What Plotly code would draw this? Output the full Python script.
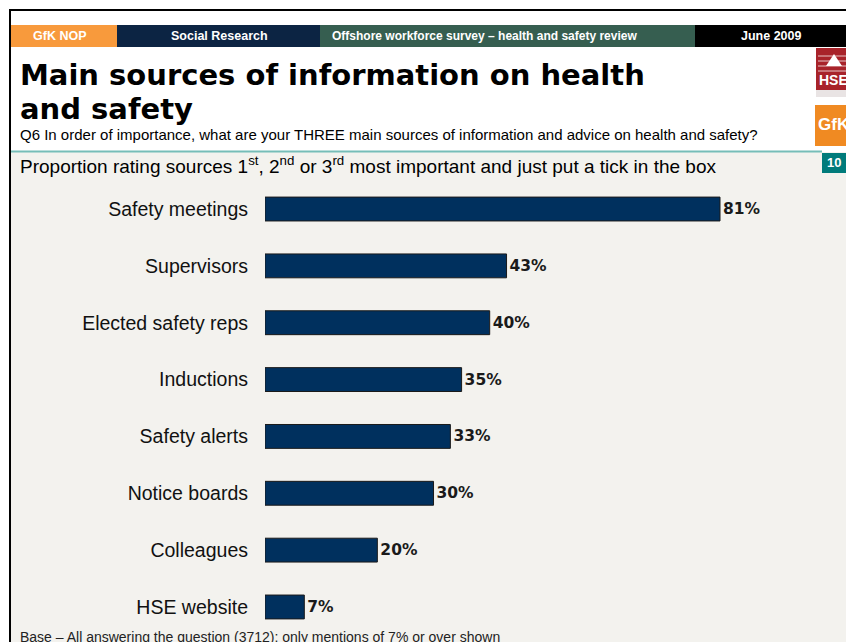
import plotly.graph_objects as go

W, H = 846, 642

# Survey results: share naming each source among their top three
sources = ["Safety meetings", "Supervisors", "Elected safety reps", "Inductions",
           "Safety alerts", "Notice boards", "Colleagues", "HSE website"]
shares = [81, 43, 40, 35, 33, 30, 20, 7]
value_labels = [f"<b>{v}%</b>" for v in shares]

header_cells = ["GfK NOP", "Social Research",
                "Offshore workforce survey \u2013 health and safety review", "June 2009"]


def px(x):
    return x / W


def py(y):
    return 1 - y / H


def rect(x0, y0, x1, y1, color, layer="below"):
    return dict(type="rect", xref="paper", yref="paper",
                x0=px(x0), x1=px(x1), y0=py(y1), y1=py(y0),
                fillcolor=color, line=dict(width=0), layer=layer)


def line(x0, y0, x1, y1, color, width):
    return dict(type="line", xref="paper", yref="paper",
                x0=px(x0), x1=px(x1), y0=py(y0), y1=py(y1),
                line=dict(color=color, width=width), layer="above")


def label(x, y, text, size, color="#000000", family="Liberation Sans",
          xanchor="left", bold=False):
    if bold:
        text = f"<b>{text}</b>"
    return dict(xref="paper", yref="paper", x=px(x), y=py(y), text=text,
                showarrow=False, xanchor=xanchor, yanchor="middle",
                font=dict(family=family, size=size, color=color))


fig = go.Figure(go.Bar(
    orientation="h",
    x=shares,
    y=sources,
    width=0.42,
    marker=dict(color="#00305E", line=dict(color="#1a1a1a", width=1)),
    text=value_labels,
    textposition="outside",
    textfont=dict(family="DejaVu Sans", size=15.5, color="#1a1a1a"),
    cliponaxis=False,
    hoverinfo="skip",
))

shapes = [
    # page panels
    rect(11, 152, 846, 642, "#F3F2EE"),
    # header strip
    rect(11, 25, 117, 47, "#F89A3C"),
    rect(117, 25, 320, 47, "#0C2443"),
    rect(320, 25, 695, 47, "#365E50"),
    rect(695, 25, 846, 47, "#000000"),
    # HSE badge
    rect(816, 48, 846, 97, "#A8232A", layer="above"),
    rect(816, 90, 846, 97, "#E9E4E4", layer="above"),
    # GfK badge
    rect(815, 105, 846, 146, "#F08A22", layer="above"),
    # page number tab
    rect(822, 153, 846, 173, "#007B7B", layer="above"),
    # divider and frame
    line(11, 151.5, 822, 151.5, "#76BDB8", 2),
    line(9, 10, 846, 10, "#000000", 2),
    line(10, 9, 10, 642, "#000000", 2),
]

# stripes and roof of the HSE badge
for yy in (56, 61, 66, 71):
    shapes.append(line(818, yy, 846, yy, "#E8C5C5", 1))
shapes.append(dict(type="path", xref="paper", yref="paper",
                   path=f"M {px(826)} {py(66)} L {px(834)} {py(54)} L {px(842)} {py(66)} Z",
                   fillcolor="#FFFFFF", line=dict(width=0), layer="above"))

annotations = [
    label(59, 36, header_cells[0], 12.5, "#FFFFFF", bold=True, xanchor="center"),
    label(219, 36, header_cells[1], 12.5, "#FFFFFF", bold=True, xanchor="center"),
    label(330, 36, header_cells[2], 12, "#FFFFFF", bold=True),
    label(771, 36, header_cells[3], 12.5, "#FFFFFF", bold=True, xanchor="center"),
    label(18, 75, "Main sources of information on health", 29, "#000000",
          family="DejaVu Sans", bold=True),
    label(18, 109, "and safety", 29, "#000000", family="DejaVu Sans", bold=True),
    label(18, 134, "Q6 In order of importance, what are your THREE main sources of "
                   "information and advice on health and safety?", 15, "#000000"),
    label(18, 165, "Proportion rating sources 1<sup>st</sup>, 2<sup>nd</sup> or "
                   "3<sup>rd</sup> most important and just put a tick in the box",
          19, "#000000"),
    label(817, 80, "HSE", 14, "#FFFFFF", bold=True),
    label(816, 125, "GfK", 17, "#FFFFFF", bold=True),
    label(825, 163, "10", 13, "#FFFFFF", bold=True),
    label(18, 637, "Base \u2013 All answering the question (3712); only mentions of "
                   "7% or over shown", 14, "#222222"),
]

zero_px, px_per_pct = 265, 455 / 81
x_max = 100
row_top, row_bottom = 180.6, 635.4

fig.update_layout(
    width=W, height=H,
    margin=dict(l=0, r=0, t=0, b=0),
    paper_bgcolor="#FFFFFF",
    plot_bgcolor="rgba(0,0,0,0)",
    showlegend=False,
    shapes=shapes,
    annotations=annotations,
    xaxis=dict(domain=[px(zero_px), px(zero_px + x_max * px_per_pct)],
               range=[0, x_max], visible=False, fixedrange=True),
    yaxis=dict(domain=[py(row_bottom), py(row_top)],
               range=[7.5, -0.5], showgrid=False, zeroline=False, showline=False,
               ticks="", ticklabelstandoff=16,
               tickfont=dict(family="Liberation Sans", size=19.5, color="#111111"),
               fixedrange=True),
)

fig.write_html("out.html")
